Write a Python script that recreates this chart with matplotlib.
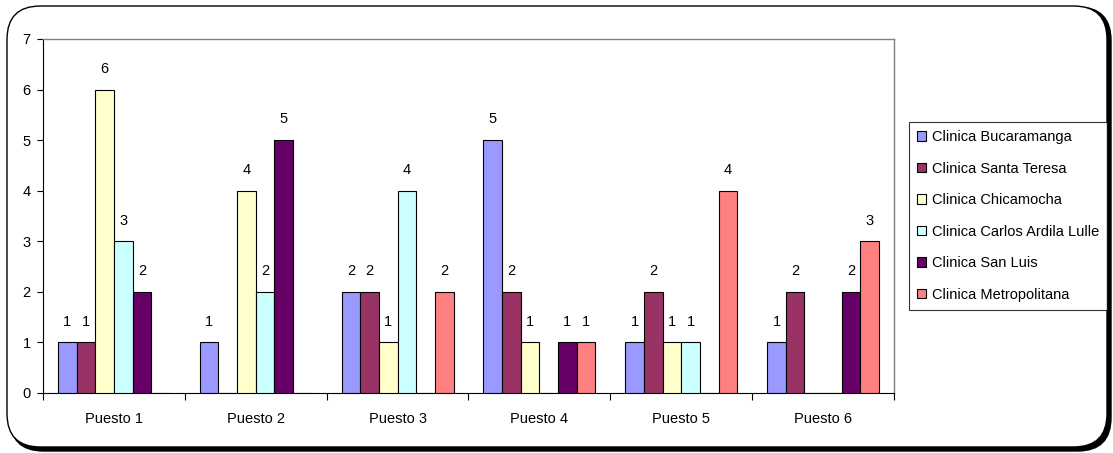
import matplotlib
matplotlib.use("Agg")
import matplotlib.pyplot as plt
from matplotlib.patches import FancyBboxPatch
import numpy as np

plt.rcParams['font.family'] = ['Liberation Sans', 'DejaVu Sans']

categories = ["Puesto 1", "Puesto 2", "Puesto 3", "Puesto 4", "Puesto 5", "Puesto 6"]
series_names = ["Clinica Bucaramanga", "Clinica Santa Teresa", "Clinica Chicamocha",
                "Clinica Carlos Ardila Lulle", "Clinica San Luis", "Clinica Metropolitana"]
bucaramanga = [1, 1, 2, 5, 1, 1]
santa_teresa = [1, 0, 2, 2, 2, 2]
chicamocha = [6, 4, 1, 1, 1, 0]
carlos_ardila = [3, 2, 4, 0, 1, 0]
san_luis = [2, 5, 0, 1, 0, 2]
metropolitana = [0, 0, 2, 1, 4, 3]
series_values = [bucaramanga, santa_teresa, chicamocha, carlos_ardila, san_luis, metropolitana]
colors = ["#9999FF", "#993366", "#FFFFCC", "#CCFFFF", "#660066", "#FF8080"]

W, H = 1113, 453
fig = plt.figure(figsize=(W / 100, H / 100), dpi=100)

# outer rounded frame with shadow
shadow = FancyBboxPatch((10 / W, 2 / H), 1101 / W, 444 / H,
                        boxstyle="round,pad=0,rounding_size=0.03",
                        transform=fig.transFigure, facecolor="black", edgecolor="black",
                        mutation_aspect=W / H, zorder=0)
fig.patches.append(shadow)
frame = FancyBboxPatch((7 / W, 6 / H), 1100 / W, 441 / H,
                       boxstyle="round,pad=0,rounding_size=0.03",
                       transform=fig.transFigure, facecolor="white", edgecolor="black",
                       linewidth=1.0, mutation_aspect=W / H, zorder=1)
fig.patches.append(frame)

left, right, top, bottom = 43, 894, 39, 393
ax = fig.add_axes([left / W, 1 - bottom / H, (right - left) / W, (bottom - top) / H])
ax.set_zorder(2)
ax.patch.set_alpha(0)

fs = 10.5
n = len(series_names)
x = np.arange(len(categories))
group_w = 1 - 30 / 142
bw = group_w / n
for i, (name, vals, c) in enumerate(zip(series_names, series_values, colors)):
    pos = x - group_w / 2 + bw * (i + 0.5)
    ax.bar(pos, vals, width=bw, color=c, edgecolor="black", linewidth=0.8, label=name, zorder=3)
    for p, v in zip(pos, vals):
        if v > 0:
            ax.text(p, v + 0.41, str(v), ha="center", va="center", fontsize=fs, zorder=4)

ax.set_xlim(-0.5, len(categories) - 0.5)
ax.set_ylim(0, 7)
ax.set_yticks(range(0, 8))
ax.set_yticklabels([str(v) for v in range(0, 8)], fontsize=fs)
ax.set_xticks(x)
ax.set_xticklabels(categories, fontsize=fs)
ax.tick_params(axis="x", length=0, pad=14)
ax.set_xticks(np.arange(-0.5, len(categories)), minor=True)
ax.tick_params(axis="x", which="minor", length=5, width=0.8, direction="out")
ax.tick_params(axis="y", length=4, width=0.8, direction="out", pad=5)

for s in ["top", "right"]:
    ax.spines[s].set_color("#808080")
    ax.spines[s].set_linewidth(1.0)
for s in ["left", "bottom"]:
    ax.spines[s].set_color("black")
    ax.spines[s].set_linewidth(0.8)

leg = fig.legend(loc="upper left", bbox_to_anchor=(909 / W, 1 - 122 / H),
                 frameon=True, fancybox=False, edgecolor="black", fontsize=fs,
                 handlelength=0.6, handleheight=0.6, handletextpad=0.4,
                 labelspacing=1.2, borderpad=0.55, borderaxespad=0)
leg.get_frame().set_linewidth(0.8)
leg.set_zorder(5)

fig.savefig("out.png", dpi=100)
